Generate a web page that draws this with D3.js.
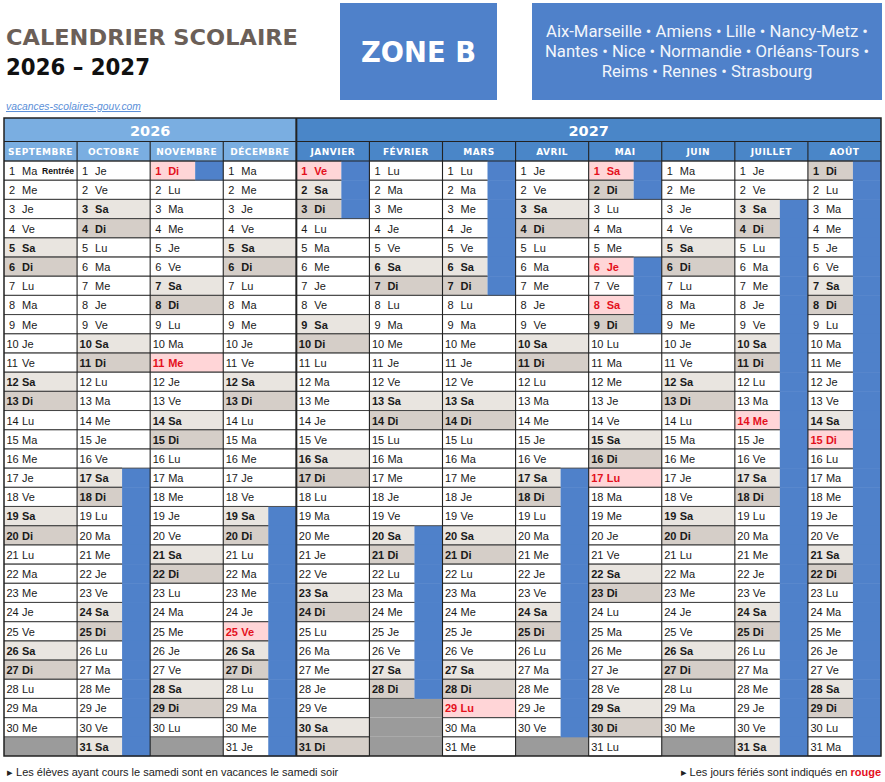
<!DOCTYPE html>
<html>
<head>
<meta charset="utf-8">
<script src="https://cdn.jsdelivr.net/npm/d3@7"></script>
<style>
  body { margin: 0; background: #fff; }
  svg { display: block; }
</style>
</head>
<body>
<div id="chart"></div>
<script>
// school calendar data
const monthKeys  = ["2026-09","2026-10","2026-11","2026-12","2027-01","2027-02","2027-03","2027-04","2027-05","2027-06","2027-07","2027-08"];
const monthNames = ["SEPTEMBRE","OCTOBRE","NOVEMBRE","DÉCEMBRE","JANVIER","FÉVRIER","MARS","AVRIL","MAI","JUIN","JUILLET","AOÛT"];
const years      = ["2026","2027"];
const dayAbbr    = ["Di","Lu","Ma","Me","Je","Ve","Sa"];
const holidays   = ["2026-11-01","2026-11-11","2026-12-25","2027-01-01","2027-03-29","2027-05-01",
                    "2027-05-06","2027-05-08","2027-05-17","2027-07-14","2027-08-15"];
const vacations  = [["2026-10-17","2026-11-01"],["2026-12-19","2027-01-03"],["2027-02-20","2027-03-07"],
                    ["2027-04-17","2027-05-02"],["2027-05-06","2027-05-09"],["2027-07-03","2027-08-31"]];
const rentree    = "2026-09-01";
const academyLines = ["Aix-Marseille • Amiens • Lille • Nancy-Metz •",
                      "Nantes • Nice • Normandie • Orléans-Tours •",
                      "Reims • Rennes • Strasbourg"];

const W = 885, H = 782;
const svg = d3.select("#chart").append("svg").attr("width", W).attr("height", H);

const x = d3.scaleBand().domain(monthKeys).range([4, 881]);
const y = d3.scaleBand().domain(d3.range(1, 32)).range([161, 756]);
const bw = x.bandwidth(), rh = y.bandwidth();
const dateW = 45;
const top0 = 118, top1 = 141.5;

const col = {
  blue: "#4f81ca", sa: "#e9e5e0", di: "#d5cec8", hol: "#ffd5d7", red: "#e4101c",
  empty: "#9b9b9b", h26: "#7aaee1", h27: "#4a86c8", line: "#444", dark: "#222"
};

const pad = n => (n < 10 ? "0" : "") + n;

// ---- titles
svg.append("text").attr("x", 6).attr("y", 45)
  .attr("font-family", "DejaVu Sans").attr("font-weight", "bold").attr("font-size", 22)
  .attr("fill", "#6b5f58").attr("textLength", 292).attr("lengthAdjust", "spacingAndGlyphs")
  .text("CALENDRIER SCOLAIRE");
svg.append("text").attr("x", 6).attr("y", 75)
  .attr("font-family", "DejaVu Sans").attr("font-weight", "bold").attr("font-size", 23)
  .attr("fill", "#111").attr("textLength", 144).attr("lengthAdjust", "spacingAndGlyphs")
  .text("2026 – 2027");

svg.append("rect").attr("x", 340).attr("y", 3).attr("width", 157).attr("height", 97).attr("fill", col.blue);
svg.append("text").attr("x", 418.5).attr("y", 62).attr("text-anchor", "middle")
  .attr("font-family", "DejaVu Sans").attr("font-weight", "bold").attr("font-size", 29)
  .attr("fill", "#fff").attr("textLength", 115).attr("lengthAdjust", "spacingAndGlyphs")
  .text("ZONE B");

svg.append("rect").attr("x", 532).attr("y", 3).attr("width", 350).attr("height", 97).attr("fill", col.blue);
svg.append("g").selectAll("text").data(academyLines).join("text")
  .attr("x", 707).attr("y", (d, i) => 37 + i * 20).attr("text-anchor", "middle")
  .attr("font-family", "Roboto").attr("font-size", 16.7).attr("fill", "#f2f5fb")
  .text(d => d);

svg.append("text").attr("x", 6).attr("y", 110)
  .attr("font-family", "Liberation Sans").attr("font-style", "italic").attr("font-size", 10.3)
  .attr("fill", "#5b8fd8").attr("text-decoration", "underline")
  .text("vacances-scolaires-gouv.com");

// ---- header rows
const yearSpan = yr => {
  const ks = monthKeys.filter(k => k.startsWith(yr));
  return [x(ks[0]), x(ks[ks.length - 1]) + bw];
};
const hdr = svg.append("g");
years.forEach((yr, i) => {
  const [a, b] = yearSpan(yr);
  hdr.append("rect").attr("x", a).attr("y", top0).attr("width", b - a).attr("height", 161 - top0)
    .attr("fill", i ? col.h27 : col.h26);
  hdr.append("text").attr("x", (a + b) / 2).attr("y", 136).attr("text-anchor", "middle")
    .attr("font-family", "DejaVu Sans").attr("font-weight", "bold").attr("font-size", 14.5)
    .attr("fill", "#fff").text(yr);
});
hdr.selectAll("text.m").data(monthKeys).join("text").attr("class", "m")
  .attr("x", k => x(k) + bw / 2).attr("y", 155).attr("text-anchor", "middle")
  .attr("font-family", "DejaVu Sans").attr("font-weight", "bold").attr("font-size", 9)
  .attr("letter-spacing", 0.5).attr("fill", "#fff")
  .text((k, i) => monthNames[i]);

// ---- day cells
const cells = [];
monthKeys.forEach(k => {
  const [yy, mm] = k.split("-").map(Number);
  const nDays = new Date(yy, mm, 0).getDate();
  d3.range(1, 32).forEach(d => {
    const iso = k + "-" + pad(d);
    if (d > nDays) { cells.push({ k, d, empty: true }); return; }
    const wd = new Date(yy, mm - 1, d).getDay();
    cells.push({
      k, d, iso, wd, abbr: dayAbbr[wd],
      hol: holidays.includes(iso),
      vac: vacations.some(v => iso >= v[0] && iso <= v[1])
    });
  });
});

const fillOf = c => c.empty ? col.empty : c.hol ? col.hol : c.wd === 6 ? col.sa : c.wd === 0 ? col.di : "#fff";
const widthOf = c => c.vac ? dateW : bw;

const g = svg.append("g");
g.selectAll("rect.cell").data(cells).join("rect").attr("class", "cell")
  .attr("x", c => x(c.k)).attr("y", c => y(c.d))
  .attr("width", widthOf).attr("height", rh).attr("fill", fillOf);

g.selectAll("rect.vac").data(cells.filter(c => c.vac)).join("rect").attr("class", "vac")
  .attr("x", c => x(c.k) + dateW).attr("y", c => y(c.d))
  .attr("width", bw - dateW).attr("height", rh + 0.5).attr("fill", col.blue);

// row separators (top and bottom of each real day cell)
const lines = g.append("g").attr("stroke", col.line).attr("stroke-width", 0.9);
cells.filter(c => !c.empty).forEach(c => {
  [y(c.d), y(c.d) + rh].forEach(yy => {
    lines.append("line").attr("x1", x(c.k)).attr("x2", x(c.k) + widthOf(c))
      .attr("y1", yy).attr("y2", yy);
  });
});

const txt = g.append("g").attr("font-family", "Liberation Sans").attr("font-size", 11);
cells.filter(c => !c.empty).forEach(c => {
  const bold = c.hol || c.wd === 0 || c.wd === 6;
  const t = txt.append("text").attr("y", y(c.d) + 14)
    .attr("font-weight", bold ? "bold" : "normal")
    .attr("fill", c.hol ? col.red : "#1a1a1a");
  t.append("tspan").attr("x", x(c.k) + (c.d < 10 ? 5 : 2.5)).text(c.d);
  t.append("tspan").attr("x", x(c.k) + 18).text(c.abbr);
  if (c.iso === rentree) {
    txt.append("text").attr("x", x(c.k) + bw - 3).attr("y", y(c.d) + 13)
      .attr("text-anchor", "end").attr("font-weight", "bold").attr("font-size", 8.6)
      .attr("fill", "#111").text("Rentrée");
  }
});

// ---- column dividers and frame
const frame = svg.append("g").attr("stroke", col.dark);
monthKeys.slice(1).forEach(k => {
  const split = k === "2027-01";
  frame.append("line").attr("x1", x(k)).attr("x2", x(k))
    .attr("y1", split ? top0 : top1).attr("y2", 756)
    .attr("stroke-width", split ? 2 : 1.1);
});
frame.append("line").attr("x1", 4).attr("x2", 881).attr("y1", top1).attr("y2", top1).attr("stroke-width", 1);
frame.append("line").attr("x1", 4).attr("x2", 881).attr("y1", 161).attr("y2", 161).attr("stroke-width", 1);
frame.append("rect").attr("x", 4).attr("y", top0).attr("width", 877).attr("height", 756 - top0)
  .attr("fill", "none").attr("stroke-width", 1.5);

// ---- footnotes
svg.append("text").attr("x", 7).attr("y", 776)
  .attr("font-family", "Liberation Sans").attr("font-size", 11).attr("fill", "#222")
  .text("▸ Les élèves ayant cours le samedi sont en vacances le samedi soir");
const fn = svg.append("text").attr("x", 881).attr("y", 776).attr("text-anchor", "end")
  .attr("font-family", "Liberation Sans").attr("font-size", 11).attr("fill", "#222");
fn.append("tspan").text("▸ Les jours fériés sont indiqués en ");
fn.append("tspan").attr("fill", col.red).attr("font-weight", "bold").text("rouge");
</script>
</body>
</html>
